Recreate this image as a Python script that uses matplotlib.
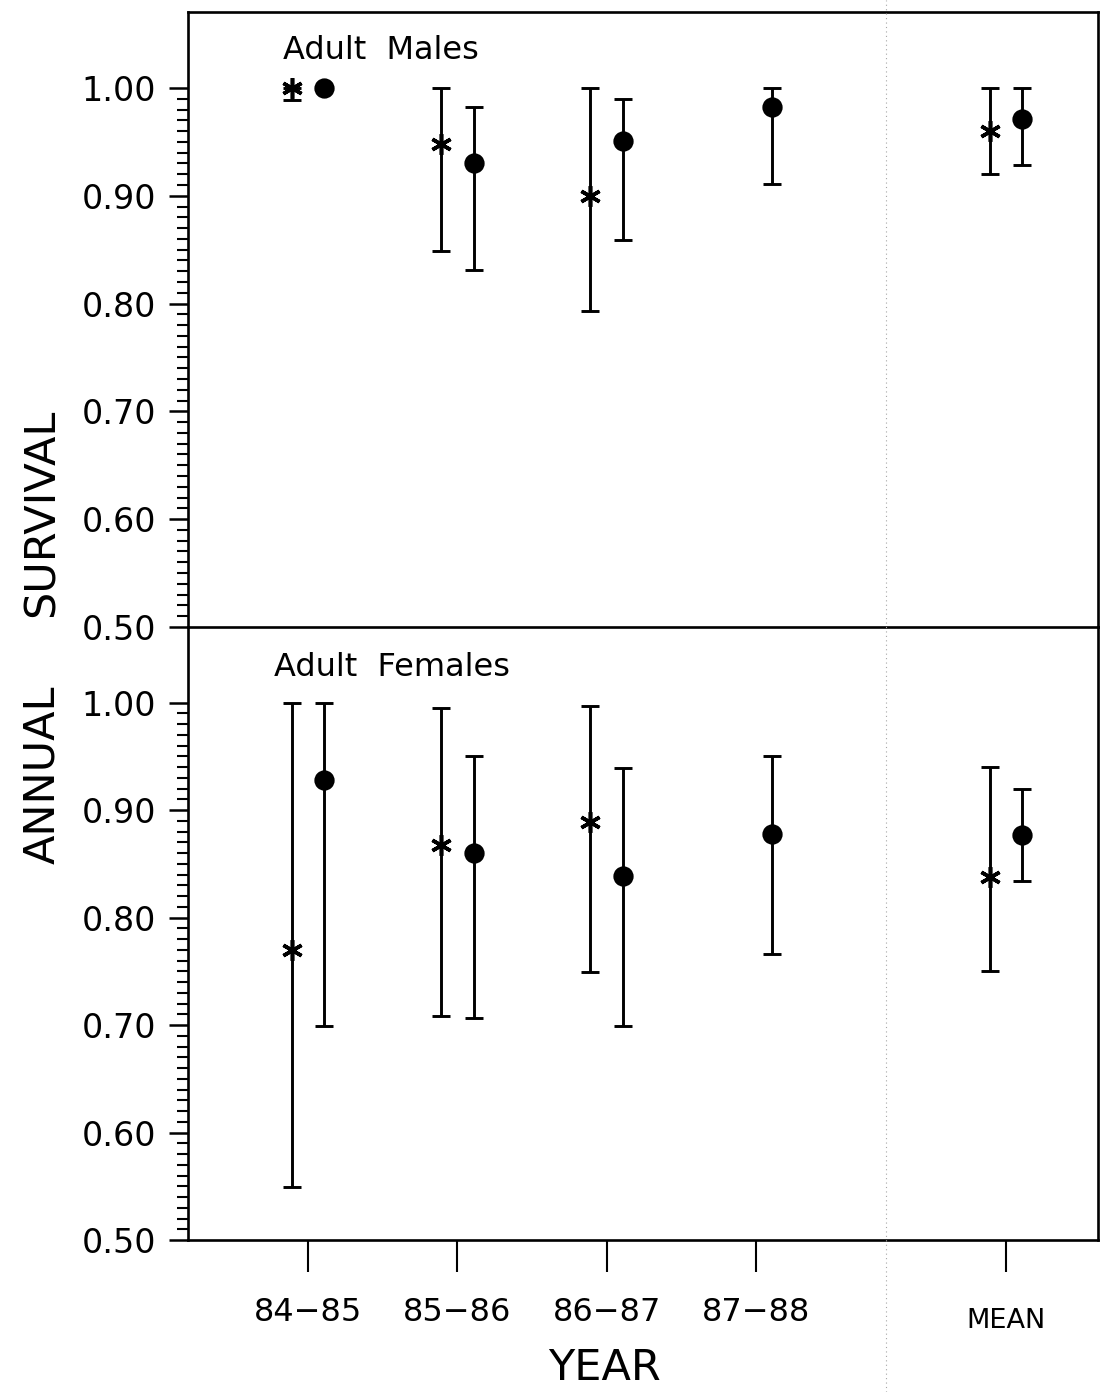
import numpy as np
import matplotlib
matplotlib.use("Agg")
import matplotlib.pyplot as plt
from matplotlib.lines import Line2D
from matplotlib.transforms import ScaledTranslation

# categories
years = ["84\u221285", "85\u221286", "86\u221287", "87\u221288", "MEAN"]

# adult males: asterisk series and dot series (estimate, lower, upper)
m_ast = [1.000, 0.948, 0.900, np.nan, 0.960]
m_ast_lo = [0.989, 0.849, 0.793, np.nan, 0.920]
m_ast_hi = [1.000, 1.000, 1.000, np.nan, 1.000]
m_dot = [1.000, 0.930, 0.951, 0.982, 0.971]
m_dot_lo = [np.nan, 0.831, 0.859, 0.911, 0.929]
m_dot_hi = [np.nan, 0.982, 0.990, 1.000, 1.000]

# adult females
f_ast = [0.770, 0.868, 0.889, np.nan, 0.838]
f_ast_lo = [0.549, 0.708, 0.749, np.nan, 0.750]
f_ast_hi = [1.000, 0.995, 0.997, np.nan, 0.940]
f_dot = [0.928, 0.860, 0.839, 0.878, 0.877]
f_dot_lo = [0.699, 0.707, 0.699, 0.766, 0.834]
f_dot_hi = [1.000, 0.950, 0.939, 0.950, 0.920]

xpos = np.array([1, 2, 3, 4, 5.675])
off = 0.11

fig = plt.figure(figsize=(11.03, 13.92), dpi=100)
ax1 = fig.add_axes([0.1704, 0.5496, 0.825, 0.4418])
ax2 = fig.add_axes([0.1704, 0.1092, 0.825, 0.4404])
ax2.patch.set_visible(False)

ast_marker = (6, 2, 0)


def draw(ax, ast, alo, ahi, dot, dlo, dhi):
    for i in range(len(xpos)):
        for v, lo, hi, dx, mk, ms in [(ast[i], alo[i], ahi[i], -off, ast_marker, 15),
                                      (dot[i], dlo[i], dhi[i], off, "o", 12)]:
            if np.isnan(v):
                continue
            x = xpos[i] + dx
            if not np.isnan(lo):
                ax.errorbar([x], [v], yerr=[[v - lo], [hi - v]], fmt="none",
                            ecolor="black", elinewidth=2.1, capsize=6.5, capthick=2.1)
            ax.plot([x], [v], marker=mk, ms=ms, color="black", mew=2.6, ls="none")


draw(ax1, m_ast, m_ast_lo, m_ast_hi, m_dot, m_dot_lo, m_dot_hi)
draw(ax2, f_ast, f_ast_lo, f_ast_hi, f_dot, f_dot_lo, f_dot_hi)

for ax in (ax1, ax2):
    ax.set_xlim(0.196, 6.291)
    ax.set_ylim(0.5, 1.0705)
    ax.set_yticks(np.arange(0.5, 1.001, 0.1))
    ax.set_yticks(np.arange(0.5, 1.001, 0.01), minor=True)
    ax.set_yticklabels(["%.2f" % t for t in np.arange(0.5, 1.001, 0.1)], fontsize=24)
    ax.tick_params(axis="y", which="major", direction="out", length=14, width=1.8, pad=9)
    ax.tick_params(axis="y", which="minor", direction="out", length=8, width=1.5)
    for s in ax.spines.values():
        s.set_linewidth(1.9)

ax1.set_xticks([])
ax2.spines["top"].set_visible(False)
ax2.set_xticks(xpos)
ax2.set_xticklabels(years, fontsize=23)
ax2.tick_params(axis="x", direction="out", length=23, width=1.5, pad=18)
mean_lbl = ax2.get_xticklabels()[4]
mean_lbl.set_fontsize(19.5)
mean_lbl.set_transform(mean_lbl.get_transform() + ScaledTranslation(0, -8 / 72, fig.dpi_scale_trans))

ax1.text(0.104, 0.937, "Adult  Males", transform=ax1.transAxes, fontsize=23,
         va="center", ha="left")
ax2.text(0.0945, 0.934, "Adult  Females", transform=ax2.transAxes, fontsize=23,
         va="center", ha="left")

fig.text(42 / 1103, 1 - 513 / 1392, "SURVIVAL", rotation=90, fontsize=31,
         ha="center", va="center")
fig.text(42 / 1103, 1 - 775 / 1392, "ANNUAL", rotation=90, fontsize=31,
         ha="center", va="center")
fig.text(604 / 1103, 1 - 1368 / 1392, "YEAR", fontsize=31, ha="center", va="center")

# faint fold line from the scanned original
fig.add_artist(Line2D([886 / 1103, 886 / 1103], [0, 1], transform=fig.transFigure,
                      color="0.65", lw=0.8, ls=(0, (1, 3))))

fig.savefig("out.png", dpi=100, facecolor="white")
